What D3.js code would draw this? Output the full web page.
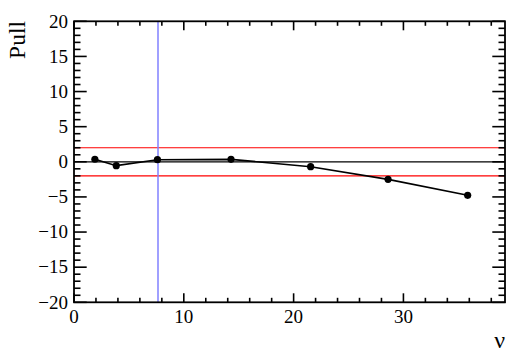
<!DOCTYPE html>
<html><head><meta charset="utf-8">
<script src="https://cdn.jsdelivr.net/npm/d3@7"></script>
<style>body{margin:0;background:#fff}svg{display:block}</style>
</head><body>
<script>
const nu = [1.9, 3.85, 7.6, 14.3, 21.55, 28.6, 35.85];
const pull = [0.36, -0.55, 0.3, 0.35, -0.7, -2.5, -4.77];
const xMajor = [0, 10, 20, 30];
const yMajor = [-20, -15, -10, -5, 0, 5, 10, 15, 20];
const bandLimits = [-2, 2];
const markerNu = 7.65;

const W = 532, H = 360;
const L = 74, R = 505, T = 21.3, B = 302.3;
const svg = d3.select("body").append("svg").attr("width", W).attr("height", H);
const x = d3.scaleLinear().domain([0, 39.25]).range([L, R]);
const y = d3.scaleLinear().domain([-20, 20]).range([B, T]);
const font = "Liberation Serif";

const xMinor = d3.range(0, 39.01, 2).filter(v => v % 10 !== 0);
const yMinor = d3.range(-20, 20.01, 1).filter(v => v % 5 !== 0);

// reference lines
svg.append("line").attr("x1", L).attr("x2", R).attr("y1", y(0)).attr("y2", y(0))
  .attr("stroke", "#000").attr("stroke-width", 1.2);
svg.selectAll(".band").data(bandLimits).enter().append("line")
  .attr("x1", L).attr("x2", R).attr("y1", d => y(d)).attr("y2", d => y(d))
  .attr("stroke", "#ff0000").attr("stroke-width", 1.2);
svg.append("line").attr("x1", x(markerNu)).attr("x2", x(markerNu)).attr("y1", T).attr("y2", B)
  .attr("stroke", "#8080ff").attr("stroke-width", 1.5);

// data
const pts = nu.map((v, i) => [v, pull[i]]);
svg.append("path").datum(pts)
  .attr("d", d3.line().x(d => x(d[0])).y(d => y(d[1])))
  .attr("fill", "none").attr("stroke", "#000").attr("stroke-width", 1.6);
svg.selectAll(".pt").data(pts).enter().append("circle")
  .attr("cx", d => x(d[0])).attr("cy", d => y(d[1])).attr("r", 3.6).attr("fill", "#000");

// axes with ticks
const g = svg.append("g").attr("stroke", "#000").attr("stroke-width", 1.6);
const xMaj = 9, xMin = 4.5, yMaj = 12.7, yMin = 6.5;
xMajor.forEach(v => {
  g.append("line").attr("x1", x(v)).attr("x2", x(v)).attr("y1", B).attr("y2", B - xMaj);
  g.append("line").attr("x1", x(v)).attr("x2", x(v)).attr("y1", T).attr("y2", T + xMaj);
});
xMinor.forEach(v => {
  g.append("line").attr("x1", x(v)).attr("x2", x(v)).attr("y1", B).attr("y2", B - xMin);
  g.append("line").attr("x1", x(v)).attr("x2", x(v)).attr("y1", T).attr("y2", T + xMin);
});
yMajor.forEach(v => {
  g.append("line").attr("x1", L).attr("x2", L + yMaj).attr("y1", y(v)).attr("y2", y(v));
  g.append("line").attr("x1", R).attr("x2", R - yMaj).attr("y1", y(v)).attr("y2", y(v));
});
yMinor.forEach(v => {
  g.append("line").attr("x1", L).attr("x2", L + yMin).attr("y1", y(v)).attr("y2", y(v));
  g.append("line").attr("x1", R).attr("x2", R - yMin).attr("y1", y(v)).attr("y2", y(v));
});
svg.append("rect").attr("x", L).attr("y", T).attr("width", R - L).attr("height", B - T)
  .attr("fill", "none").attr("stroke", "#000").attr("stroke-width", 1.8);

// labels
const fmt = v => v < 0 ? "\u2212" + Math.abs(v) : String(v);
svg.selectAll(".xl").data(xMajor).enter().append("text")
  .attr("x", d => x(d)).attr("y", 323).attr("text-anchor", "middle")
  .style("font-family", font).style("font-size", "19px").text(d => fmt(d));
svg.selectAll(".yl").data(yMajor).enter().append("text")
  .attr("x", 68).attr("y", d => y(d) + 6.3).attr("text-anchor", "end")
  .style("font-family", font).style("font-size", "19px").text(d => fmt(d));
svg.append("text").attr("transform", "translate(25,21) rotate(-90)")
  .attr("text-anchor", "end").style("font-family", font).style("font-size", "23.5px").text("Pull");
svg.append("text").attr("x", 505).attr("y", 348).attr("text-anchor", "end")
  .style("font-family", font).style("font-size", "24px").text("\u03bd");
</script>
</body></html>
